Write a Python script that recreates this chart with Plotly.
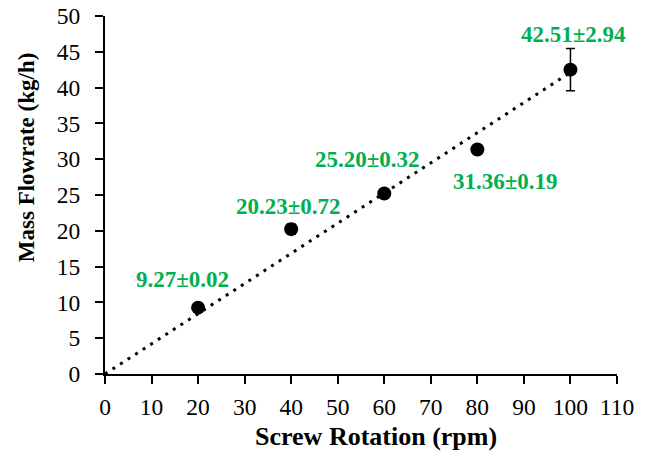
import numpy as np
import plotly.graph_objects as go

# Data
rotation_rpm = [20, 40, 60, 80, 100]
flowrate_kgh = [9.27, 20.23, 25.20, 31.36, 42.51]
flowrate_sd = [0.02, 0.72, 0.32, 0.19, 2.94]
point_labels = ["9.27±0.02", "20.23±0.72", "25.20±0.32", "31.36±0.19", "42.51±2.94"]
x_ticks = list(range(0, 111, 10))
y_ticks = list(range(0, 51, 5))

FONT = "Liberation Serif, Times New Roman, serif"
GREEN = "#00B050"

# Linear trendline forced through origin (fitted from data)
xa = np.array(rotation_rpm, dtype=float)
ya = np.array(flowrate_kgh, dtype=float)
slope = float(np.sum(xa * ya) / np.sum(xa * xa))
trend_x = [0, max(rotation_rpm)]
trend_y = [slope * v for v in trend_x]

fig = go.Figure()
fig.add_trace(go.Scatter(
    x=trend_x, y=trend_y, mode="lines",
    line=dict(color="black", width=3, dash="3px,6px"),
    hoverinfo="skip", showlegend=False,
))
fig.add_trace(go.Scatter(
    x=rotation_rpm, y=flowrate_kgh, mode="markers",
    marker=dict(color="black", size=14),
    error_y=dict(type="data", array=flowrate_sd, visible=True,
                 color="black", thickness=1.5, width=4.5),
    showlegend=False,
))

# label offsets (pixels) relative to each point
offsets = [(-16, 28), (-3, 23), (-17, 34), (28, -32), (3, 35)]
for xv, yv, txt, (dx, dy) in zip(rotation_rpm, flowrate_kgh, point_labels, offsets):
    fig.add_annotation(x=xv, y=yv, text=f"<b>{txt}</b>", showarrow=False,
                       xshift=dx, yshift=dy,
                       font=dict(family=FONT, size=23, color=GREEN))

# axis titles as annotations
fig.add_annotation(xref="paper", yref="paper", x=0.529, y=-0.175,
                   text="<b>Screw Rotation (rpm)</b>", showarrow=False,
                   xanchor="center", yanchor="middle",
                   font=dict(family=FONT, size=26, color="black"))
fig.add_annotation(xref="paper", yref="paper", x=-0.154, y=0.606,
                   text="<b>Mass Flowrate (kg/h)</b>", showarrow=False,
                   textangle=-90, xanchor="center", yanchor="middle",
                   font=dict(family=FONT, size=23, color="black"))

axis_common = dict(
    showline=True, linecolor="black", linewidth=2,
    ticks="outside", ticklen=8, tickwidth=2, tickcolor="black",
    showgrid=False, zeroline=False, automargin=False,
    tickfont=dict(family=FONT, size=23.5, color="black"),
)
fig.update_xaxes(range=[0, 110], tickvals=x_ticks, ticktext=[str(t) for t in x_ticks],
                 ticklabelstandoff=3, **axis_common)
fig.update_yaxes(range=[0, 50], tickvals=y_ticks, ticktext=[str(t) for t in y_ticks],
                 ticklabelstandoff=10, **axis_common)

fig.update_layout(
    width=648, height=457,
    margin=dict(l=105, r=31, t=16, b=83, autoexpand=False),
    plot_bgcolor="white", paper_bgcolor="white",
    font=dict(family=FONT),
)
fig.write_html(
    "out.html",
    config={"displayModeBar": False},
    post_script="document.body.style.margin='0';document.body.style.overflow='hidden';",
)
